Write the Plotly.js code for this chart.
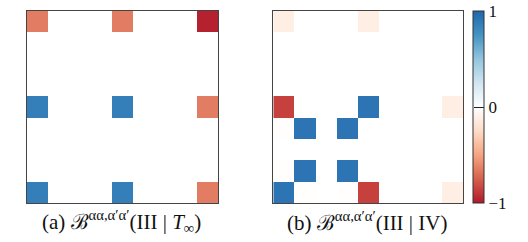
<!DOCTYPE html>
<html><head><meta charset="utf-8">
<script src="https://cdn.plot.ly/plotly-3.0.1.min.js"></script>
<style>html,body{margin:0;padding:0;background:#fff}</style>
</head><body>
<div id="chart" style="width:528px;height:242px"></div>
<script>
// 9x9 grid indices
var cols = [0,1,2,3,4,5,6,7,8];
var rows = [0,1,2,3,4,5,6,7,8];
// panel (a): B(III | T_inf), rows listed top to bottom
var zA = [
  [-0.65,0,0,0,-0.65,0,0,0,-0.97],
  [0,0,0,0,0,0,0,0,0],
  [0,0,0,0,0,0,0,0,0],
  [0,0,0,0,0,0,0,0,0],
  [0.86,0,0,0,0.86,0,0,0,-0.65],
  [0,0,0,0,0,0,0,0,0],
  [0,0,0,0,0,0,0,0,0],
  [0,0,0,0,0,0,0,0,0],
  [0.86,0,0,0,0.86,0,0,0,-0.65]
];
// panel (b): B(III | IV)
var zB = [
  [-0.12,0,0,0,-0.12,0,0,0,0],
  [0,0,0,0,0,0,0,0,0],
  [0,0,0,0,0,0,0,0,0],
  [0,0,0,0,0,0,0,0,0],
  [-0.86,0,0,0,0.92,0,0,0,-0.12],
  [-0.01,0.92,0,0.92,0,0,0,0,0],
  [0,0,0,0,0,0,0,0,0],
  [-0.01,0.92,0,0.92,0,0,0,0,0],
  [0.92,-0.01,0,-0.01,-0.86,0,0,0,-0.12]
];
var captionA = "(a) ℬ<sup>αα,α′α′</sup>(III | <i>T</i><sub>∞</sub>)";
var captionB = "(b) ℬ<sup>αα,α′α′</sup>(III | IV)";
var cbTicks = [-1,0,1];
var cbLabels = ["−1","0","1"];

var cs = [[0,'#b2182b'],[0.125,'#d6604d'],[0.25,'#f4a582'],[0.375,'#fddbc7'],[0.5,'#ffffff'],
          [0.625,'#d1e5f0'],[0.75,'#92c5de'],[0.875,'#4393c3'],[1,'#2166ac']];

var font = "Liberation Serif, DejaVu Serif, serif";
var traces = [
  {type:'heatmap', x:cols, y:rows, z:zA, zmin:-1, zmax:1, colorscale:cs, showscale:false,
   xaxis:'x', yaxis:'y', hoverinfo:'skip'},
  {type:'heatmap', x:cols, y:rows, z:zB, zmin:-1, zmax:1, colorscale:cs, showscale:true,
   xaxis:'x2', yaxis:'y2', hoverinfo:'skip',
   colorbar:{x:472.7/528, xanchor:'left', xpad:0, ypad:0, y:0.16, yanchor:'bottom',
     len:0.7945, lenmode:'fraction', thickness:10.5, thicknessmode:'pixels',
     outlinewidth:1, outlinecolor:'#333', tickmode:'array', tickvals:cbTicks, ticktext:cbLabels,
     ticks:'inside', ticklen:10, tickcolor:'#222', tickwidth:1,
     tickfont:{family:font, size:17, color:'#111'}}}
];
var ax = function(dom, anc){return {domain:dom, anchor:anc, showgrid:false, zeroline:false, showticklabels:false,
  ticks:'', showline:true, mirror:true, linecolor:'#444', linewidth:1, range:[-0.5,8.5], fixedrange:true};};
var yax = function(dom, anc){return {domain:dom, anchor:anc, showgrid:false, zeroline:false, showticklabels:false,
  ticks:'', showline:true, mirror:true, linecolor:'#444', linewidth:1, range:[8.5,-0.5], fixedrange:true};};
var layout = {
  width:528, height:242, margin:{l:0,r:0,t:0,b:0},
  paper_bgcolor:'#fff', plot_bgcolor:'#fff', showlegend:false,
  xaxis: ax([26.7/528, 218.3/528], 'y'), yaxis: yax([1-203.3/242, 1-11/242], 'x'),
  xaxis2: ax([273.3/528, 463.3/528], 'y2'), yaxis2: yax([1-203.3/242, 1-11/242], 'x2'),
  annotations:[
    {text:captionA, xref:'paper', yref:'paper', x:121.5/528, y:1-221/242, xanchor:'center', yanchor:'middle',
     showarrow:false, font:{family:font, size:21, color:'#111'}},
    {text:captionB, xref:'paper', yref:'paper', x:367/528, y:1-221/242, xanchor:'center', yanchor:'middle',
     showarrow:false, font:{family:font, size:21, color:'#111'}}
  ]
};
Plotly.newPlot('chart', traces, layout, {staticPlot:true, displayModeBar:false});
</script>
</body></html>
